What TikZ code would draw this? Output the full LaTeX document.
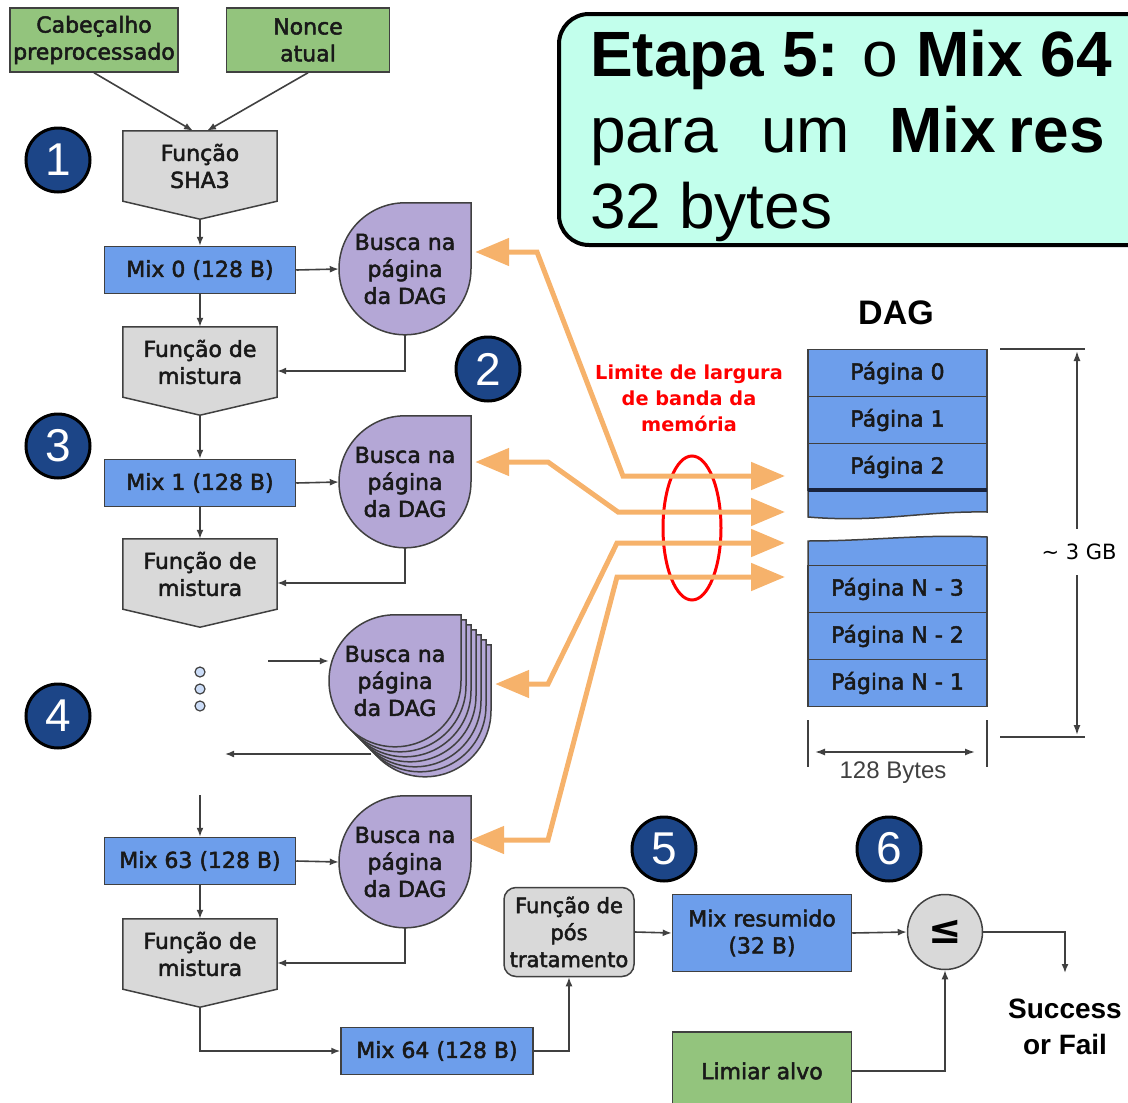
\documentclass[tikz,border=0pt]{standalone}
\usepackage{fontspec}
\setmainfont{DejaVu Sans}
\newfontfamily\boxfont{DejaVu Sans}
\newfontfamily\arialfont{Liberation Sans}
\usetikzlibrary{arrows.meta,shapes.geometric,calc}
\pgfdeclarelayer{background}
\pgfsetlayers{background,main}

\definecolor{boxgreen}{RGB}{147,196,125}
\definecolor{boxblue}{RGB}{109,158,235}
\definecolor{boxgray}{RGB}{217,217,217}
\definecolor{boxpurple}{RGB}{180,167,214}
\definecolor{mint}{RGB}{194,255,236}
\definecolor{numblue}{RGB}{28,69,135}
\definecolor{bworange}{RGB}{246,178,107}
\definecolor{edgegray}{RGB}{64,64,64}
\definecolor{pagesep}{RGB}{25,35,60}

\newcommand\fs[2]{\fontsize{#1}{#2}\selectfont}
% slightly heavier glyphs: fill and stroke the text outlines
\newcommand\heavytext{\special{pdf:literal direct 2 Tr 0.5 w}}

\tikzset{
  base/.style={inner sep=0pt, align=center, font=\boxfont\fs{22}{27}\heavytext, text=black!90},
  greenbox/.style={base, draw=edgegray, line width=1.5pt, fill=boxgreen},
  bluebox/.style={base, draw=edgegray, line width=1.5pt, fill=boxblue},
  mixbox/.style={bluebox, minimum width=191pt, minimum height=47pt},
  pentnode/.style={base, minimum width=154pt, minimum height=70pt},
  dropnode/.style={base, minimum width=132pt, minimum height=132pt},
  numcircle/.style={circle, minimum size=64pt, inner sep=0pt, fill=numblue,
    draw=black, line width=3pt, text=white, font=\arialfont\fs{46}{46}},
  conn/.style={draw=edgegray, line width=1.6pt, -{Latex[length=9pt,width=7pt]}},
  bwarrow/.style={draw=bworange, line width=5pt, line join=miter,
    {Triangle[length=34pt,width=27pt]}-{Triangle[length=34pt,width=27pt]}},
  page/.style={base, draw=edgegray, line width=1.5pt, fill=boxblue,
    minimum width=179pt, minimum height=47pt},
  dim/.style={draw=black!75, line width=1.5pt},
  dimarrow/.style={dim, {Latex[length=10pt,width=7pt]}-{Latex[length=10pt,width=7pt]}},
  dotnode/.style={circle, minimum size=10pt, inner sep=0pt, draw=edgegray,
    fill=boxblue!35, line width=1.2pt},
}

% lookup shape: circle with a square top-right corner, drawn around a node
\newcommand\dropshape[2]{%
  \draw[draw=edgegray, line width=1.5pt, fill=boxpurple]
    ([shift={(#2,#2)}]#1.north east) -- ([shift={(#2,#2)}]#1.north)
    arc[start angle=-90, end angle=-360, radius=66] -- cycle;}
% down-pointing pentagon around a node
\newcommand\pentshape[1]{%
  \draw[draw=edgegray, line width=1.5pt, fill=boxgray]
    (#1.north west) -- (#1.north east) -- (#1.south east)
    -- ([yshift=-18pt]#1.south) -- (#1.south west) -- cycle;}

\begin{document}
\begin{tikzpicture}[x=1pt,y=-1pt]
\useasboundingbox (0,0) rectangle (1128,1103);
\clip (0,0) rectangle (1128,1103);

% ---------- inputs ----------
\node[greenbox, minimum width=168pt, minimum height=64pt] (cab) at (94,40) {Cabeçalho\\preprocessado};
\node[greenbox, minimum width=163pt, minimum height=64pt] (nonce) at (308,40) {Nonce\\atual};

% ---------- main chain ----------
\node[pentnode] (sha) at (200,166) {Função\\SHA3};
\coordinate (sha-tip) at ([yshift=-18pt]sha.south);
\node[mixbox] (mix0) at (200,270) {Mix 0 (128 B)};
\node[dropnode] (b1) at (405,269) {Busca na\\página\\da DAG};
\node[pentnode] (mist1) at (200,362) {Função de\\mistura};
\coordinate (mist1-tip) at ([yshift=-18pt]mist1.south);

\node[mixbox] (mix1) at (200,483) {Mix 1 (128 B)};
\node[dropnode] (b2) at (405,482) {Busca na\\página\\da DAG};
\node[pentnode] (mist2) at (200,574) {Função de\\mistura};

\node[dotnode] (dot1) at (200,672) {};
\node[dotnode] (dot2) at (200,689) {};
\node[dotnode] (dot3) at (200,706) {};
\node[dropnode] (b3) at (395,681) {Busca na\\página\\da DAG};
\coordinate (in3) at (268,661);
\coordinate (out3a) at (371,754);
\coordinate (out3b) at (225,754);
\coordinate (in63) at (200,795);

\node[mixbox] (mix63) at (200,861) {Mix 63 (128 B)};
\node[dropnode] (b4) at (405,862) {Busca na\\página\\da DAG};
\node[pentnode] (mist3) at (200,954) {Função de\\mistura};
\coordinate (mist3-tip) at ([yshift=-18pt]mist3.south);
\node[mixbox, minimum width=192pt] (mix64) at (437,1051) {Mix 64 (128 B)};

% ---------- final stage ----------
\node[base, draw=edgegray, line width=1.5pt, fill=boxgray, rounded corners=12pt,
  minimum width=130pt, minimum height=89pt, font=\boxfont\fs{21}{27}\heavytext] (pos) at (569,932) {Função de\\pós\\tratamento};
\node[bluebox, minimum width=179pt, minimum height=77pt] (mixres) at (762,933) {Mix resumido\\(32 B)};
\node[circle, draw=edgegray, line width=1.5pt, fill=boxgray, minimum size=75pt,
  inner sep=0pt, font=\bfseries\fs{40}{40}] (le) at (945,932) {≤};
\node[greenbox, minimum width=179pt, minimum height=78pt] (lim) at (762,1071) {Limiar alvo};
\node[inner sep=0pt, align=center, anchor=north, font=\arialfont\bfseries\fs{28}{36}] (sf) at (1065,999) {Success\\or Fail};

% ---------- shapes behind the text ----------
\begin{pgfonlayer}{background}
  \pentshape{sha}
  \pentshape{mist1}
  \pentshape{mist2}
  \pentshape{mist3}
  \dropshape{b1}{0}
  \dropshape{b2}{0}
  \foreach \k in {30,25,...,5} {\dropshape{b3}{\k}}
  \dropshape{b3}{0}
  \dropshape{b4}{0}
\end{pgfonlayer}

% ---------- step markers ----------
\node[numcircle] (n1) at (58,160) {1};
\node[numcircle] (n2) at (488,369) {2};
\node[numcircle] (n3) at (58,446) {3};
\node[numcircle] (n4) at (58,716) {4};
\node[numcircle] (n5) at (664,849) {5};
\node[numcircle] (n6) at (889,849) {6};

% ---------- black connectors ----------
\draw[conn] (cab.south) -- ([xshift=-7pt]sha.north);
\draw[conn] (nonce.south) -- ([xshift=7pt]sha.north);
\draw[conn] (sha-tip) -- (mix0.north);
\draw[conn] (mix0.east) -- (b1.west);
\draw[conn] (b1.south) |- ([yshift=-9pt]mist1.east);
\draw[conn] (mix0.south) -- (mist1.north);
\draw[conn] (mist1-tip) -- (mix1.north);
\draw[conn] (mix1.east) -- (b2.west);
\draw[conn] (mix1.south) -- (mist2.north);
\draw[conn] (b2.south) |- ([yshift=-9pt]mist2.east);
\draw[conn] (in3) -- (in3 -| b3.west);
\draw[conn] (out3a) -- (out3b);
\draw[conn] (in63) -- (mix63.north);
\draw[conn] (mix63.east) -- (b4.west);
\draw[conn] (mix63.south) -- (mist3.north);
\draw[conn] (b4.south) |- ([yshift=-9pt]mist3.east);
\draw[conn] (mist3-tip) |- (mix64.west);
\draw[conn] (mix64.east) -| (pos.south);
\draw[conn] (pos.east) -- (mixres.west);
\draw[conn] (mixres.east) -- (le.west);
\draw[conn] (le.east) -| ([yshift=26pt]sf.north);
\draw[conn] (lim.east) -| (le.south);

% ---------- DAG memory ----------
\node[font=\arialfont\bfseries\fs{34}{34}, inner sep=0pt] (dag) at (896,313) {DAG};
\node[page] (p0) at (897.5,373) {Página 0};
\node[page] (p1) at (897.5,420) {Página 1};
\node[page] (p2) at (897.5,467) {Página 2};
\path[fill=boxblue, draw=edgegray, line width=1.5pt]
  (808,490) -- (987,490) -- (987,512) .. controls (920,511) and (880,523) .. (808,517) -- cycle;
\draw[draw=pagesep, line width=3.5pt] (808,490) -- (987,490);
\path[fill=boxblue, draw=edgegray, line width=1.5pt]
  (808,541) .. controls (870,541) and (920,534) .. (987,537) -- (987,566) -- (808,566) -- cycle;
\node[page] (pn3) at (897.5,589) {Página N - 3};
\node[page] (pn2) at (897.5,636) {Página N - 2};
\node[page] (pn1) at (897.5,683) {Página N - 1};

% size marks
\coordinate (hA) at (1000,349); \coordinate (hB) at (1085,349);
\coordinate (hC) at (1000,737); \coordinate (hD) at (1085,737);
\draw[dim] (hA) -- (hB);
\draw[dim] (hC) -- (hD);
\coordinate (vtop) at (1077,351); \coordinate (vbot) at (1077,735);
\draw[dimarrow] (vtop) -- (vbot);
\node[fill=white, font=\boxfont\fs{21}{21}, inner sep=0pt, minimum height=46pt] (gb) at (1079,552) {\textasciitilde\ 3 GB};
\coordinate (tA) at (808,720); \coordinate (tB) at (808,767);
\coordinate (tC) at (987,720); \coordinate (tD) at (987,767);
\draw[dim] (tA) -- (tB);
\draw[dim] (tC) -- (tD);
\coordinate (wl) at (815,752); \coordinate (wr) at (975,752);
\draw[dimarrow] (wl) -- (wr);
\node[font=\arialfont\fs{24}{24}, text=black!75, inner sep=0pt] (bytes) at (893,773) {128 Bytes};

% ---------- memory bandwidth ----------
\node[ellipse, draw=red, line width=3pt, minimum width=58pt, minimum height=144pt, inner sep=0pt] (bw) at (692,528) {};
\node[inner sep=0pt, align=center, text=red, font=\bfseries\fs{19.3}{26}] (bwlabel) at (689,398) {Limite de largura\\de banda da\\memória};

\coordinate (d1) at (785,476);
\coordinate (d2) at (785,512);
\coordinate (d3) at (785,543);
\coordinate (d4) at (785,577);
\draw[bwarrow] ([shift={(4,-17)}]b1.east) -- (537,252) -- (623,476) -- (d1);
\draw[bwarrow] ([shift={(4,-20)}]b2.east) -- (548,462) -- (618,512) -- (d2);
\draw[bwarrow] ([shift={(34,3)}]b3.east) -- (548,684) -- (617,543) -- (d3);
\draw[bwarrow] ([shift={(-1,-22)}]b4.east) -- (548,840) -- (617,577) -- (d4);

% ---------- step note ----------
\node[draw=black, line width=4pt, fill=mint, rounded corners=30pt, minimum width=640pt,
  minimum height=231pt, anchor=north west] (etapa) at (557,12) {};
\node[anchor=base west, inner sep=0pt, font=\arialfont\fs{64}{76}] (et1) at (590,76) {\textbf{Etapa 5:} o \textbf{Mix 64}};
\node[anchor=base west, inner sep=0pt, font=\arialfont\fs{64}{76}] (et2) at (590,152) {para\hspace{43pt}um\hspace{39pt}\textbf{Mix}\hspace{13pt}\textbf{res}};
\node[anchor=base west, inner sep=0pt, font=\arialfont\fs{64}{76}] (et3) at (590,228) {32 bytes};
\end{tikzpicture}
\end{document}
